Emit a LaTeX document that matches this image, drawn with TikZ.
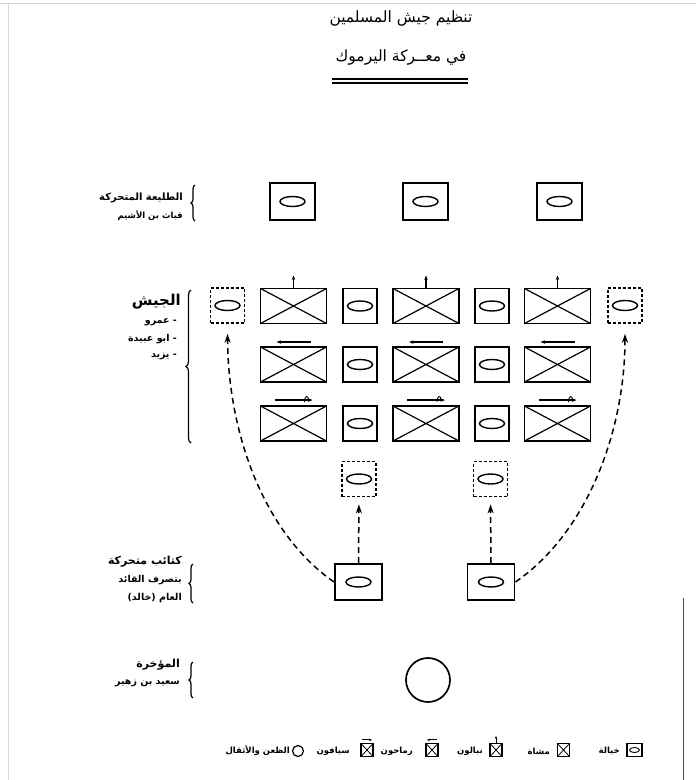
\documentclass[tikz,border=0pt]{standalone}
\usepackage{fontspec}
\newfontfamily\ar[Script=Arabic]{DejaVu Sans}
\TeXXeTstate=1
\usetikzlibrary{arrows.meta,decorations.pathreplacing}
\begin{document}
\begin{tikzpicture}[x=1pt,y=-1pt,
  frame/.style={draw, line width=1.9pt, inner sep=0pt, rectangle},
  footbox/.style={frame, minimum width=66pt, minimum height=35pt,
    path picture={\draw[solid, line width=1.2pt] (path picture bounding box.north west) -- (path picture bounding box.south east)
      (path picture bounding box.south west) -- (path picture bounding box.north east);}},
  horsebox/.style={frame, minimum width=34pt, minimum height=35pt,
    path picture={\draw[solid, line width=1.4pt] (path picture bounding box.center) ellipse [x radius=12.5pt, y radius=5pt];}},
  dashbox/.style={horsebox, line width=1.6pt, dash pattern=on 3pt off 2pt},
  vanbox/.style={horsebox, minimum width=45pt, minimum height=37pt},
  mobbox/.style={horsebox, minimum width=47pt, minimum height=36pt},
  lgx/.style={draw, line width=1.2pt, inner sep=0pt, minimum width=12pt, minimum height=13pt,
    path picture={\draw[line width=0.8pt] (path picture bounding box.north west) -- (path picture bounding box.south east)
      (path picture bounding box.south west) -- (path picture bounding box.north east);}},
  lgh/.style={draw, line width=1.2pt, inner sep=0pt, minimum width=15pt, minimum height=13pt,
    path picture={\draw[line width=0.9pt] (path picture bounding box.center) ellipse [x radius=5pt, y radius=2.5pt];}},
  flow/.style={line width=1.5pt, dash pattern=on 6pt off 4pt, -{Stealth[length=9pt,width=6pt]}},
  tick/.style={line width=1.2pt, -{Stealth[length=4.5pt,width=3.5pt]}},
  brc/.style={decorate, decoration={brace, amplitude=4pt}, line width=1.2pt},
  head/.style={font=\ar\bfseries\fontsize{10}{12}\selectfont, anchor=east, inner sep=0pt},
  sub/.style={font=\ar\bfseries\fontsize{9.5}{11}\selectfont, anchor=east, inner sep=0pt},
  lgt/.style={font=\ar\bfseries\fontsize{8.5}{10}\selectfont, anchor=east, inner sep=0pt}
]
\useasboundingbox (0,0) rectangle (696,780);
\fill[white] (0,0) rectangle (696,780);
% page edges
\draw[gray!35, line width=0.8pt] (0,3) -- (696,3);
\draw[gray!30, line width=0.8pt] (8,3) -- (8,780);
\draw[black!70, line width=0.8pt] (683,598) -- (683,780);

% title
\node[font=\ar\fontsize{15.5}{20}\selectfont] (t1) at (401,18) {\beginR تنظيم جيش المسلمين\endR};
\node[font=\ar\fontsize{15.5}{20}\selectfont] (t2) at (401,57) {\beginR في معــركة اليرموك\endR};
\draw[line width=1.3pt] (332,79) -- (468,79);
\draw[line width=1.3pt] (332,83) -- (468,83);

% vanguard
\node[vanbox] (v1) at (292.5,201.5) {};
\node[vanbox] (v2) at (425.5,201.5) {};
\node[vanbox] (v3) at (559.5,201.5) {};

% army row A
\node[dashbox] (dl) at (227.5,305.5) {};
\node[footbox] (a1) at (293.5,306) {};
\node[horsebox] (h1) at (360,306) {};
\node[footbox] (a2) at (426,306) {};
\node[horsebox] (h2) at (492,306) {};
\node[footbox] (a3) at (557.5,306) {};
\node[dashbox] (dr) at (625,305.5) {};
% row B
\node[footbox] (b1) at (293.5,364.5) {};
\node[horsebox] (h3) at (360,364.5) {};
\node[footbox] (b2) at (426,364.5) {};
\node[horsebox] (h4) at (492,364.5) {};
\node[footbox] (b3) at (557.5,364.5) {};
% row C
\node[footbox] (c1) at (293.5,423.5) {};
\node[horsebox] (h5) at (360,423.5) {};
\node[footbox] (c2) at (426,423.5) {};
\node[horsebox] (h6) at (492,423.5) {};
\node[footbox] (c3) at (557.5,423.5) {};

% direction marks
\foreach \n in {a1,a2,a3}{
  \draw[tick] (\n.north) -- ([yshift=12pt]\n.north);
}
\foreach \n in {b1,b2,b3}{
  \draw[tick] ([xshift=17pt,yshift=4pt]\n.north) -- ([xshift=-17pt,yshift=4pt]\n.north);
}
\foreach \n in {c1,c2,c3}{
  \draw[tick] ([xshift=-19pt,yshift=5pt]\n.north) -- ([xshift=19pt,yshift=5pt]\n.north);
  \draw[line width=0.9pt] ([xshift=11pt,yshift=3pt]\n.north) .. controls ([xshift=11pt,yshift=10pt]\n.north) and ([xshift=15pt,yshift=10pt]\n.north) .. ([xshift=15pt,yshift=5pt]\n.north);
}

% lower
\node[dashbox] (d1) at (359,479) {};
\node[dashbox] (d2) at (490.5,479) {};
\node[mobbox] (m1) at (358.5,582) {};
\node[mobbox] (m2) at (491,582) {};
\draw[flow, shorten >=7pt] (m1.north) -- (d1.south);
\draw[flow, shorten >=7pt] (m2.north) -- (d2.south);
\draw[flow, shorten >=10pt] (m1.west) .. controls (262,532) and (228,430) .. (dl.south);
\draw[flow, shorten >=10pt] (m2.east) .. controls (588,532) and (625,430) .. (dr.south);

% rear
\node[circle, draw, line width=1.7pt, minimum size=44pt, inner sep=0pt] (rear) at (428,680) {};

% labels
\node[head] (l1a) at (183,198) {\beginR الطليعة المتحركة\endR};
\node[sub, font=\ar\bfseries\fontsize{8.5}{10}\selectfont] (l1b) at (183,216) {\beginR قباث بن الأشيم\endR};
\draw[brc] (195,221) -- (195,185);

\node[head, font=\ar\bfseries\fontsize{15}{17}\selectfont] (l2a) at (181,302) {\beginR الجيش\endR};
\node[sub] (l2b) at (177,322) {\beginR - عمرو\endR};
\node[sub] (l2c) at (177,339) {\beginR - ابو عبيدة\endR};
\node[sub] (l2d) at (177,356) {\beginR - يزيد\endR};
\draw[brc, decoration={brace, amplitude=5pt}] (191,443) -- (191,290);

\node[head, font=\ar\bfseries\fontsize{11}{13}\selectfont] (l3a) at (182,562) {\beginR كتائب متحركة\endR};
\node[sub] (l3b) at (182,580) {\beginR بتصرف القائد\endR};
\node[sub] (l3c) at (182,598) {\beginR العام (خالد)\endR};
\draw[brc] (193,603) -- (193,564);

\node[head, font=\ar\bfseries\fontsize{11}{13}\selectfont] (l4a) at (180,665) {\beginR المؤخرة\endR};
\node[sub] (l4b) at (180,683) {\beginR سعيد بن زهير\endR};
\draw[brc] (193,698) -- (193,662);

% legend
\node[lgh] (g1) at (634.5,750) {};
\node[lgt] (g1t) at (620,751) {\beginR خيالة\endR};
\node[lgx] (g2) at (563.5,750) {};
\node[lgt] (g2t) at (550,751) {\beginR مشاة\endR};
\node[lgx] (g3) at (496,750) {};
\draw[line width=0.9pt, -{Stealth[length=3pt,width=2.5pt]}] (g3.north) -- ([yshift=7pt]g3.north);
\node[lgt] (g3t) at (483,751) {\beginR نبالون\endR};
\node[lgx] (g4) at (432,750) {};
\draw[line width=0.9pt, -{Stealth[length=3pt,width=2.5pt]}] ([xshift=5pt,yshift=3pt]g4.north) -- ([xshift=-5pt,yshift=3pt]g4.north);
\node[lgt] (g4t) at (413,751) {\beginR رماحون\endR};
\node[lgx] (g5) at (367,750) {};
\draw[line width=0.9pt, -{Stealth[length=3pt,width=2.5pt]}] ([xshift=-5pt,yshift=3pt]g5.north) -- ([xshift=5pt,yshift=3pt]g5.north);
\node[lgt] (g5t) at (350,751) {\beginR سيافون\endR};
\node[circle, draw, line width=1.2pt, minimum size=11pt, inner sep=0pt] (g6) at (298,751) {};
\node[lgt] (g6t) at (290,751) {\beginR الظعن والأثقال\endR};
\end{tikzpicture}
\end{document}
